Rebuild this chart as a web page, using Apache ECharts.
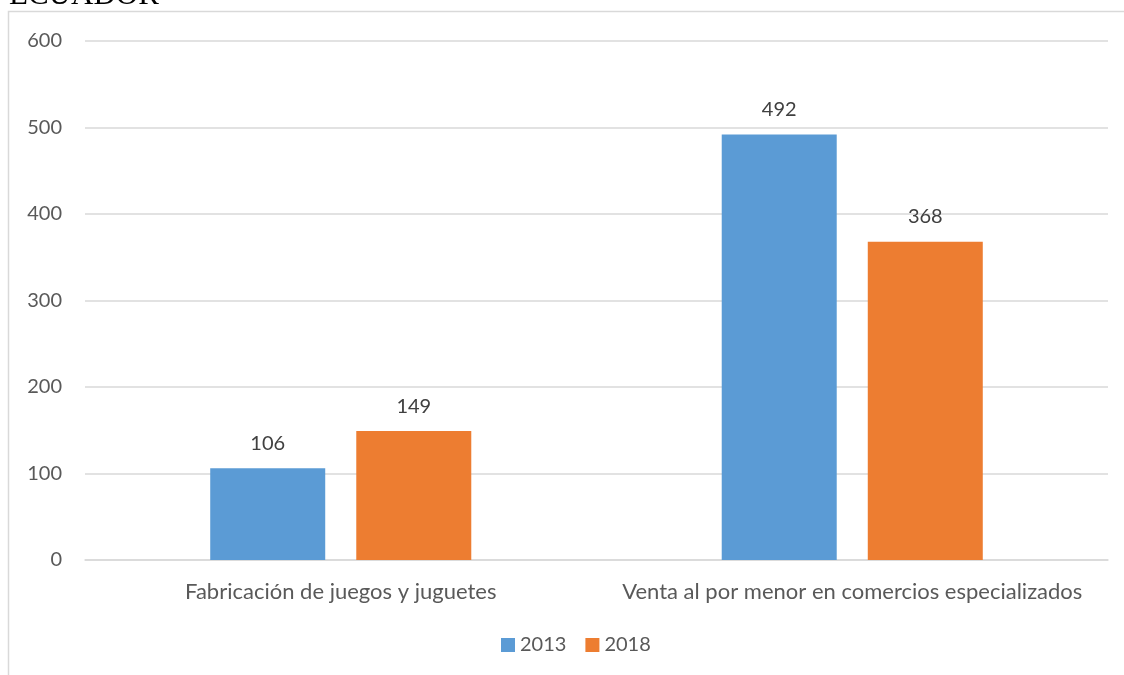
<!DOCTYPE html>
<html>
<head>
<meta charset="utf-8">
<script src="https://cdn.jsdelivr.net/npm/echarts@6/dist/echarts.min.js"></script>
<style>
  html, body { margin: 0; padding: 0; background: #fff; }
  #chart { width: 1124px; height: 675px; }
</style>
</head>
<body>
<div id="chart"></div>
<script>
const categories = ['Fabricación de juegos y juguetes', 'Venta al por menor en comercios especializados'];
const values2013 = [106, 492];
const values2018 = [149, 368];
const seriesNames = ['2013', '2018'];

const chart = echarts.init(document.getElementById('chart'));
const font = 'Lato, "Open Sans", sans-serif';

chart.setOption({
  animation: false,
  title: {
    text: 'ECUADOR',
    left: 4,
    top: -25,
    textStyle: { fontFamily: '"Liberation Serif", serif', fontSize: 31, fontWeight: 'normal', color: '#000' },
  },
  graphic: [
    {
      type: 'rect',
      shape: { x: 8.5, y: 11.5, width: 1130, height: 700 },
      style: { fill: 'none', stroke: '#d9d9d9', lineWidth: 1.5 },
      z: -1,
    },
  ],
  grid: { left: 85, right: 16, top: 41, bottom: 115 },
  legend: {
    data: seriesNames,
    bottom: 20,
    left: 501,
    padding: 0,
    itemWidth: 14,
    itemHeight: 14,
    itemGap: 19,
    icon: 'rect',
    textStyle: { color: '#595959', fontSize: 20, fontFamily: font },
  },
  xAxis: {
    type: 'category',
    data: categories,
    axisLine: { lineStyle: { color: '#d9d9d9', width: 1.5 } },
    axisTick: { show: false },
    axisLabel: { color: '#595959', fontSize: 22, fontFamily: font, margin: 21, interval: 0 },
  },
  yAxis: {
    type: 'value',
    min: 0,
    max: 600,
    interval: 100,
    axisLine: { show: false },
    axisTick: { show: false },
    splitLine: { lineStyle: { color: '#d9d9d9', width: 1.5 } },
    axisLabel: { color: '#595959', fontSize: 20, fontFamily: font, margin: 23 },
  },
  series: [
    {
      name: seriesNames[0],
      type: 'bar',
      data: values2013,
      barWidth: 115,
      barGap: '27%',
      itemStyle: { color: '#5b9bd5' },
      label: { show: true, position: 'top', distance: 15, color: '#404040', fontSize: 20, fontFamily: font },
    },
    {
      name: seriesNames[1],
      type: 'bar',
      data: values2018,
      barWidth: 115,
      itemStyle: { color: '#ed7d31' },
      label: { show: true, position: 'top', distance: 15, color: '#404040', fontSize: 20, fontFamily: font },
    },
  ],
});
</script>
</body>
</html>
